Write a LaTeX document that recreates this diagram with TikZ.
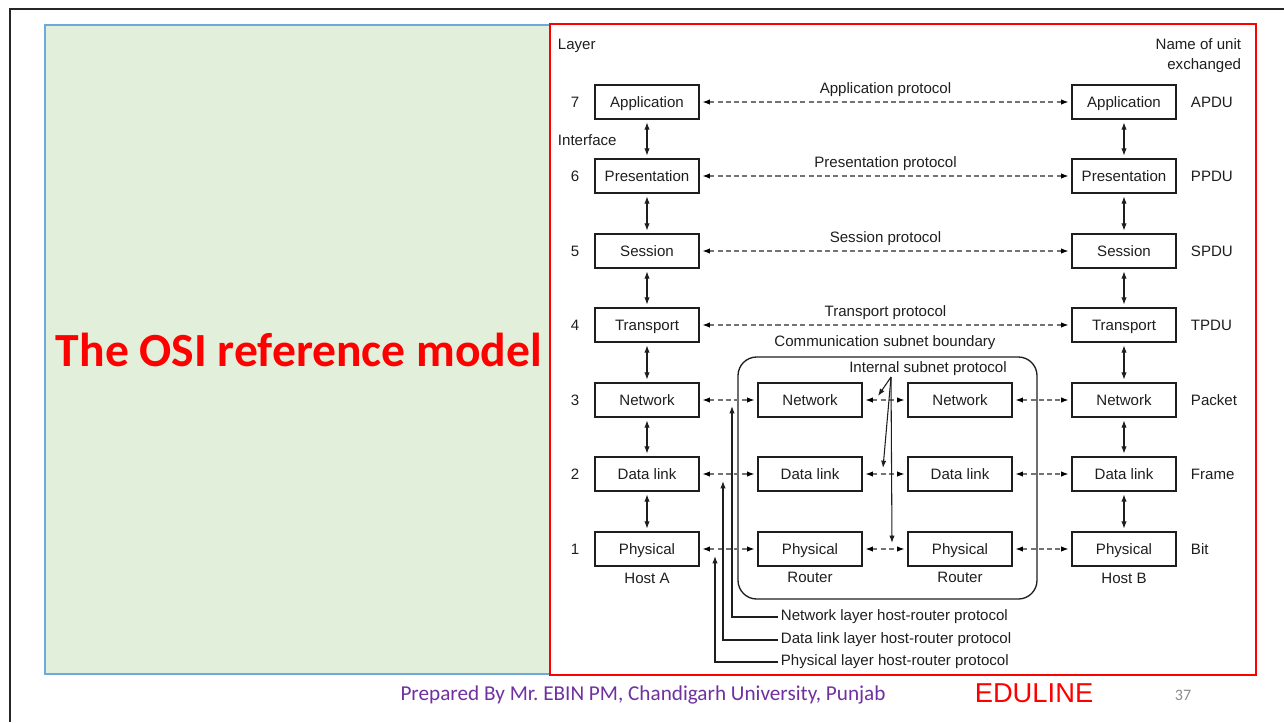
\documentclass[tikz,border=0pt]{standalone}
\usepackage{fontspec}
\setmainfont{Liberation Sans}
\newfontfamily\slidefont{Carlito}
\usetikzlibrary{arrows.meta}
\definecolor{panelgreen}{HTML}{E2EFDA}
\definecolor{panelblue}{HTML}{6FA8DC}
\definecolor{footpurple}{HTML}{7030A0}
\definecolor{inkgray}{HTML}{1E1E1E}
\newcommand\dgfont{\fontsize{11.3}{15}\selectfont}
\frenchspacing
\begin{document}
\begin{tikzpicture}[x=0.75pt,y=-0.75pt,
  layerbox/.style={draw=inkgray, line width=0.9pt, minimum width=78pt,
    minimum height=25.5pt, inner sep=0pt, font=\dgfont, text=inkgray,
    text height=8.2pt, text depth=0pt},
  plain/.style={font=\dgfont, text=inkgray, inner sep=2pt},
  peer/.style={draw=black!55, line width=0.8pt, dash pattern=on 3.8pt off 2.4pt,
    {Latex[length=5.5pt,width=4pt,color=black]}-{Latex[length=5.5pt,width=4pt,color=black]},
    shorten <=2.2pt, shorten >=2.2pt},
  iface/.style={draw=inkgray, line width=0.85pt,
    {Latex[length=5.5pt,width=4pt]}-{Latex[length=5.5pt,width=4pt]},
    shorten <=2pt, shorten >=2pt},
  pointer/.style={draw=inkgray, line width=0.8pt, -{Latex[length=5.5pt,width=4pt]}}
]
\useasboundingbox (0,0) rectangle (1284,722);

% slide frame
\draw[line width=2.2pt, black!85] (10,722) -- (10,9) -- (1284,9);

% left title panel
\fill[panelgreen] (45,25) rectangle (550,674);
\draw[panelblue, line width=0.8pt] (45,25) rectangle (550,674);
\node[font=\slidefont\bfseries\fontsize{35.7}{40}\selectfont, text=red, anchor=base,
  inner sep=0pt] (title) at (299,366) {The OSI reference model};

% right diagram frame
\draw[red, line width=1.1pt] (550,24) rectangle (1256,675);

% headings
\node[plain, anchor=west] (layerhead) at (555,46) {Layer};
\node[plain, anchor=west] (iface) at (555,140) {Interface};
\node[plain, anchor=east, align=right] (unithead) at (1244,56) {Name of unit\\exchanged};

% communication subnet boundary
\node[draw=inkgray, line width=1pt, rounded corners=14pt, minimum width=224.25pt,
  minimum height=181.5pt, inner sep=0pt] (subnet) at (887.5,478) {};
\node[plain] (subnetlab) at (885,343) {Communication subnet boundary};
\node[plain] (isplab) at (928,369) {Internal subnet protocol};

% the seven layers of both hosts
\foreach \n/\t/\y/\u in {7/Application/102/APDU, 6/Presentation/176/PPDU,
    5/Session/251/SPDU, 4/Transport/325/TPDU, 3/Network/400/Packet,
    2/Data link/474/Frame, 1/Physical/549/Bit}{
  \node[layerbox] (a\n) at (647,\y) {\t};
  \node[layerbox] (b\n) at (1124,\y) {\t};
  \node[plain] (num\n) at (575,\y) {\n};
  \node[plain, anchor=west] (unit\n) at (1188,\y) {\u};
}

% router layers
\foreach \n/\t/\y in {3/Network/400, 2/Data link/474, 1/Physical/549}{
  \node[layerbox] (r\n) at (810,\y) {\t};
  \node[layerbox] (s\n) at (960,\y) {\t};
}

% host and router names
\node[plain] (hosta) at (647,578) {Host A};
\node[plain] (hostb) at (1124,578) {Host B};
\node[plain] (routera) at (810,577) {Router};
\node[plain] (routerb) at (960,577) {Router};

% interfaces between adjacent layers
\foreach \i/\j in {7/6,6/5,5/4,4/3,3/2,2/1}{
  \draw[iface] (a\i) -- (a\j);
  \draw[iface] (b\i) -- (b\j);
}

% end-to-end peer protocols
\draw[peer] (a7) -- (b7) node[midway, above=1.5pt, plain, text=inkgray, solid] (p7) {Application protocol};
\draw[peer] (a6) -- (b6) node[midway, above=1.5pt, plain, text=inkgray, solid] (p6) {Presentation protocol};
\draw[peer] (a5) -- (b5) node[midway, above=1.5pt, plain, text=inkgray, solid] (p5) {Session protocol};
\draw[peer] (a4) -- (b4) node[midway, above=1.5pt, plain, text=inkgray, solid] (p4) {Transport protocol};

% hop-by-hop protocols
\foreach \n in {3,2,1}{
  \draw[peer] (a\n) -- (r\n);
  \draw[peer] (r\n) -- (s\n);
  \draw[peer] (s\n) -- (b\n);
}

% internal subnet protocol pointers
\coordinate (ispfoot) at (891,377);
\coordinate (isp3) at (878,396);
\coordinate (isp2) at (883,468);
\coordinate (isp1) at (892,543);
\draw[pointer] (ispfoot) -- (isp3);
\draw[pointer] (ispfoot) -- (isp2);
\draw[pointer] (ispfoot) -- (isp1);

% host-router protocols
\node[plain, anchor=west] (nhr) at (778,617) {Network layer host-router protocol};
\node[plain, anchor=west] (dhr) at (778,640) {Data link layer host-router protocol};
\node[plain, anchor=west] (phr) at (778,662) {Physical layer host-router protocol};
\coordinate (ntip) at (732,406);
\coordinate (dtip) at (723,481);
\coordinate (ptip) at (715,556);
\draw[pointer] (nhr.west) -| (ntip);
\draw[pointer] (dhr.west) -| (dtip);
\draw[pointer] (phr.west) -| (ptip);

% footer
\node[font=\slidefont\fontsize{15.9}{18}\selectfont, text=footpurple, anchor=base,
  inner sep=0pt] (credit) at (643,700) {Prepared By Mr. EBIN PM, Chandigarh University, Punjab};
\node[font=\fontsize{20.5}{24}\selectfont, text=red, anchor=base, inner sep=0pt]
  (brand) at (1034,702) {EDULINE};
\node[font=\slidefont\fontsize{12}{14}\selectfont, text=black!45, anchor=base,
  inner sep=0pt] (pageno) at (1183,700) {37};
\end{tikzpicture}
\end{document}
